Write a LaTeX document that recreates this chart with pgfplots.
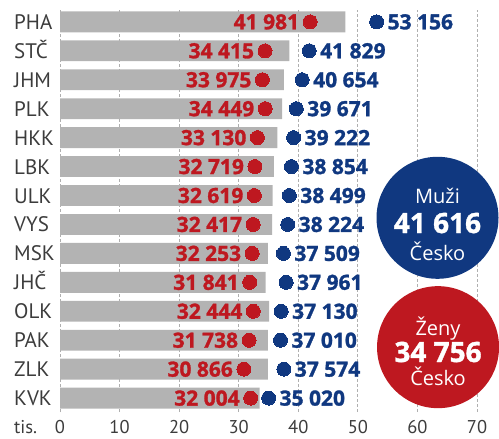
\documentclass[border=0pt]{standalone}
\usepackage{pgfplots}
\pgfplotsset{compat=1.18}
\usepackage{fontspec}
\setmainfont{PT Sans}
\newfontfamily\numfont{Open Sans}[BoldFeatures={FakeBold=1.3}]
\usetikzlibrary{calc}
\definecolor{barg}{RGB}{179,179,179}
\definecolor{zred}{RGB}{190,24,32}
\definecolor{mblue}{RGB}{16,56,128}
\definecolor{lab}{RGB}{60,60,60}
\definecolor{gridg}{RGB}{175,175,175}
\tikzset{
    cnode/.style={anchor=base, inner sep=0pt, text=white, font=\numfont\fontsize{20}{22}\selectfont},
    cnum/.style={anchor=base, inner sep=0pt, text=white, font=\numfont\bfseries\fontsize{28}{30}\selectfont},
}
\begin{document}
\begin{tikzpicture}
\begin{axis}[
    name=ax,
    scale only axis,
    width=417pt, height=402pt,
    xmin=0, xmax=70, ymin=-0.48, ymax=13.41,
    xtick={0,10,...,70},
    ytick={0,...,13},
    yticklabels={KVK,ZLK,PAK,OLK,JHČ,MSK,VYS,ULK,LBK,HKK,PLK,JHM,STČ,PHA},
    axis line style={draw=none},
    major tick length=0pt,
    xmajorgrids,
    major grid style={gridg, dash pattern=on 3pt off 2pt, line width=0.9pt},
    extra x ticks={0}, extra x tick labels={},
    extra x tick style={grid style={solid, gridg, line width=1pt}},
    xticklabel style={font=\fontsize{18.5}{20}\selectfont, text=lab, anchor=base, yshift=-21pt},
    yticklabel style={font=\fontsize{21}{22}\selectfont, text=lab, anchor=base west, inner sep=0pt, xshift=-46pt, yshift=-7.5pt},
    /pgf/number format/assume math mode=true,
    clip=false,
]
% gray bars
\addplot[xbar, bar shift=0pt, bar width=0.72, fill=barg, draw=none] coordinates {
(47.9,13) (38.5,12) (37.6,11) (37.3,10) (36.5,9) (35.9,8) (35.7,7)
(35.6,6) (34.9,5) (34.5,4) (35.1,3) (34.9,2) (34.9,1) (33.5,0)};
% women
\addplot[only marks, color=zred, mark=*, mark size=7pt, mark options={fill=zred, draw=zred, line width=0pt},
    point meta=explicit symbolic, nodes near coords,
    every node near coord/.style={anchor=east, xshift=-11pt, inner sep=0pt,
        font=\numfont\bfseries\fontsize{21}{22}\selectfont, text=zred}] coordinates {
(41.981,13) [41 981] (34.415,12) [34 415] (33.975,11) [33 975] (34.449,10) [34 449]
(33.130,9) [33 130] (32.719,8) [32 719] (32.619,7) [32 619] (32.417,6) [32 417]
(32.253,5) [32 253] (31.841,4) [31 841] (32.444,3) [32 444] (31.738,2) [31 738]
(30.866,1) [30 866] (32.004,0) [32 004]};
% men
\addplot[only marks, color=mblue, mark=*, mark size=7pt, mark options={fill=mblue, draw=mblue, line width=0pt},
    point meta=explicit symbolic, nodes near coords,
    every node near coord/.style={anchor=west, xshift=11pt, inner sep=0pt,
        font=\numfont\bfseries\fontsize{21}{22}\selectfont, text=mblue}] coordinates {
(53.156,13) [53 156] (41.829,12) [41 829] (40.654,11) [40 654] (39.671,10) [39 671]
(39.222,9) [39 222] (38.854,8) [38 854] (38.499,7) [38 499] (38.224,6) [38 224]
(37.509,5) [37 509] (37.961,4) [37 961] (37.130,3) [37 130] (37.010,2) [37 010]
(37.574,1) [37 574] (35.020,0) [35 020]};
% unit label
\node[anchor=base west, inner sep=0pt, font=\fontsize{18.5}{20}\selectfont, text=lab]
    at (rel axis cs:0,0) [xshift=-46pt, yshift=-21pt] {tis.};
% summary circles
\node[circle, fill=mblue, minimum size=122pt, inner sep=0pt] at (axis cs:63.37,6.23) {};
\node[cnode] at (axis cs:63.37,6.741) {Muži};
\node[cnum]  at (axis cs:63.37,5.704) {41 616};
\node[cnode] at (axis cs:63.37,4.771) {Česko};
\node[circle, fill=zred, minimum size=122pt, inner sep=0pt] at (axis cs:63.46,1.76) {};
\node[cnode] at (axis cs:63.46,2.180) {Ženy};
\node[cnum]  at (axis cs:63.46,1.247) {34 756};
\node[cnode] at (axis cs:63.46,0.452) {Česko};
\end{axis}
\pgfresetboundingbox
\path ($(ax.south west)+(-60pt,-26pt)$) rectangle ($(ax.north east)+(22pt,10pt)$);
\end{tikzpicture}
\end{document}
